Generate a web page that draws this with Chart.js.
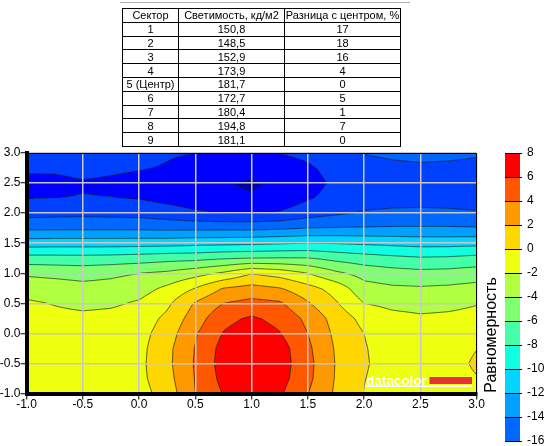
<!DOCTYPE html>
<html>
<head>
<meta charset="utf-8">
<script src="https://cdn.jsdelivr.net/npm/chart.js@4.4.0/dist/chart.umd.min.js"></script>
<style>
html, body { margin: 0; padding: 0; background: #fff; }
#wrap { position: relative; width: 544px; height: 446px; overflow: hidden; }
#chart { position: absolute; left: 0; top: 0; }
#topline { position: absolute; left: 120px; top: 2px; width: 290px; height: 1px; background: #b0b0b0; }
#tbl { position: absolute; left: 122px; top: 8px; border-collapse: collapse; table-layout: fixed;
       font: 11px "Liberation Sans", Arial, sans-serif; color: #000; }
#tbl td { border: 1px solid #000; padding: 0; height: 12.8px; line-height: 12px; text-align: center; white-space: nowrap; overflow: hidden; }
</style>
</head>
<body>
<div id="wrap">
  <canvas id="chart" width="544" height="446"></canvas>
  <div id="topline"></div>
  <table id="tbl"></table>
</div>
<script>
// table above the plot
var tableHeader = ['Сектор', 'Светимость, кд/м2', 'Разница с центром, %'];
var sectors = ['1', '2', '3', '4', '5 (Центр)', '6', '7', '8', '9'];
var luminance = [150.8, 148.5, 152.9, 173.9, 181.7, 172.7, 180.4, 194.8, 181.1];
var centerDiff = [17, 18, 16, 4, 0, 5, 1, 7, 0];
var colWidths = [56, 106, 116];

// uniformity field on a 0.25 grid
var xVals = [-1, -0.75, -0.5, -0.25, 0, 0.25, 0.5, 0.75, 1, 1.25, 1.5, 1.75, 2, 2.25, 2.5, 2.75, 3];
var yVals = [3, 2.75, 2.5, 2.25, 2, 1.75, 1.5, 1.25, 1, 0.75, 0.5, 0.25, 0, -0.25, -0.5, -0.75, -1];
var zRows = [
  [-17.2, -17.2, -17.0, -17.2, -17.5, -17.8, -17.98, -18.3, -18.4, -17.95, -17.5, -16.6, -15.95, -15.6, -15.4, -15.5, -15.75],
  [-17.6, -17.6, -17.3, -17.6, -17.85, -18.15, -18.7, -19.2, -19.4, -19.0, -18.3, -17.3, -16.7, -16.5, -16.35, -16.45, -16.6],
  [-18.7, -18.6, -18.2, -18.4, -18.7, -19.1, -19.5, -19.95, -20.15, -19.8, -18.8, -17.6, -17.2, -17.1, -17.1, -17.0, -16.9],
  [-18.05, -18.0, -17.9, -17.95, -18.1, -18.6, -19.0, -19.6, -19.9, -19.3, -18.2, -17.3, -16.9, -16.8, -16.8, -16.85, -16.9],
  [-16.7, -16.6, -16.5, -16.6, -16.7, -17.1, -17.7, -18.0, -18.05, -17.8, -16.9, -16.3, -15.8, -15.6, -15.5, -15.6, -15.8],
  [-14.4, -14.4, -14.4, -14.4, -14.4, -14.5, -14.5, -14.5, -14.5, -14.3, -14.0, -13.9, -13.85, -13.8, -13.8, -13.8, -13.85],
  [-11.0, -10.9, -10.9, -10.9, -10.85, -10.8, -10.6, -10.5, -10.4, -10.2, -10.0, -10.1, -10.3, -10.5, -10.7, -10.7, -10.6],
  [-7.2, -7.25, -7.3, -7.2, -7.0, -6.7, -6.6, -6.2, -6.0, -5.9, -5.9, -6.6, -7.1, -7.5, -7.8, -7.7, -7.35],
  [-4.3, -4.5, -4.7, -4.4, -4.0, -3.6, -2.75, -1.7, -0.1, -0.8, -2.0, -3.6, -4.7, -5.15, -5.4, -5.3, -5.0],
  [-2.87, -3.1, -3.4, -3.3, -2.85, -1.6, 0.05, 2.1, 2.65, 2.1, 0.7, -0.8, -3.3, -3.7, -3.8, -3.65, -3.35],
  [-1.7, -2.1, -2.5, -2.3, -1.75, -0.4, 2.2, 4.0, 4.65, 4.3, 2.2, 0.2, -2.0, -2.5, -2.7, -2.5, -2.1],
  [-1.5, -1.45, -1.5, -1.4, -1.1, 0.45, 3.0, 5.5, 6.25, 5.5, 3.5, 1.2, -0.6, -1.4, -1.7, -1.6, -1.4],
  [-1.2, -1.1, -1.0, -0.8, -0.75, 1.0, 3.8, 6.1, 6.9, 6.1, 4.0, 1.55, 0.0, -0.8, -1.1, -1.0, -0.5],
  [-1.0, -0.9, -0.75, -0.65, -0.6, 1.45, 4.1, 6.7, 7.5, 6.9, 4.4, 1.8, 0.1, -0.65, -0.9, -0.8, -0.05],
  [-0.9, -0.8, -0.7, -0.6, -0.5, 1.5, 4.2, 6.85, 7.6, 7.0, 4.6, 1.9, 0.15, -0.6, -0.85, -0.8, 0.3],
  [-0.9, -0.8, -0.65, -0.55, -0.55, 1.3, 4.1, 6.6, 7.4, 6.8, 4.5, 1.85, 0.05, -0.65, -0.85, -0.75, -0.1],
  [-0.9, -0.85, -0.7, -0.6, -0.8, 0.9, 4.0, 6.1, 7.0, 6.3, 4.05, 1.7, -0.05, -0.7, -0.9, -0.8, -0.3]
];

// contour levels and the colour of each band [levels[k], levels[k+1])
var levels = [-22, -20, -18, -16, -14, -12, -10, -8, -6, -4, -2, 0, 2, 4, 6, 8];
var bandColors = ['#0000a8', '#0000ff', '#0040ff', '#0068ff', '#00a0ff', '#00d4ff', '#10ffe0',
                  '#44ffa8', '#80ff70', '#b0ff40', '#eeff10', '#ffd700', '#ff9900', '#ff5800', '#ff0000'];
var barLevels = [8, 6, 4, 2, 0, -2, -4, -6, -8, -10, -12, -14, -16];
var barTitle = 'Равномерность';
var axisTicks = { min: -1, max: 3, step: 0.5 };

// build the table
(function () {
  var tbl = document.getElementById('tbl');
  var html = '<colgroup>';
  colWidths.forEach(function (w) { html += '<col style="width:' + w + 'px">'; });
  html += '</colgroup><tr>';
  tableHeader.forEach(function (h) { html += '<td>' + h + '</td>'; });
  html += '</tr>';
  for (var i = 0; i < sectors.length; i++) {
    html += '<tr><td>' + sectors[i] + '</td><td>' + luminance[i].toFixed(1).replace('.', ',') +
            '</td><td>' + centerDiff[i] + '</td></tr>';
  }
  tbl.innerHTML = html;
})();

function findCell(arr, v) {
  var asc = arr[arr.length - 1] > arr[0];
  for (var i = 0; i < arr.length - 1; i++) {
    var a = arr[i], b = arr[i + 1];
    if ((asc && v <= b) || (!asc && v >= b)) return [i, (v - a) / (b - a)];
  }
  return [arr.length - 2, 1];
}

function field(xv, yv) {
  var cx = findCell(xVals, xv), cy = findCell(yVals, yv);
  var i = cx[0], tx = Math.max(0, Math.min(1, cx[1]));
  var j = cy[0], ty = Math.max(0, Math.min(1, cy[1]));
  return (1 - tx) * (1 - ty) * zRows[j][i] + tx * (1 - ty) * zRows[j][i + 1] +
         (1 - tx) * ty * zRows[j + 1][i] + tx * ty * zRows[j + 1][i + 1];
}

function bandOf(z) {
  var k = Math.floor((z - levels[0]) / 2);
  return Math.max(0, Math.min(bandColors.length - 1, k));
}

function edgePoint(x1, y1, v1, x2, y2, v2, L) {
  var t = (L - v1) / (v2 - v1);
  return [x1 + (x2 - x1) * t, y1 + (y2 - y1) * t];
}

var contourPlugin = {
  id: 'contour',
  beforeDraw: function (chart) {
    var ctx = chart.ctx, a = chart.chartArea;
    var sx = chart.scales.x, sy = chart.scales.y;
    ctx.save();
    ctx.beginPath();
    ctx.rect(a.left, a.top, a.right - a.left, a.bottom - a.top);
    ctx.clip();

    // filled bands, one pixel row at a time
    var x0 = Math.floor(a.left), x1 = Math.ceil(a.right);
    var y0 = Math.floor(a.top), y1 = Math.ceil(a.bottom);
    var xv = [];
    for (var px = x0; px < x1; px++) xv.push(sx.getValueForPixel(px + 0.5));
    for (var py = y0; py < y1; py++) {
      var yv = sy.getValueForPixel(py + 0.5);
      var start = x0, cur = -1;
      for (var k = 0; k <= xv.length; k++) {
        var b = k < xv.length ? bandOf(field(xv[k], yv)) : -2;
        if (b !== cur) {
          if (cur >= 0) {
            ctx.fillStyle = bandColors[cur];
            ctx.fillRect(start, py, x0 + k - start, 1);
          }
          start = x0 + k;
          cur = b;
        }
      }
    }

    // contour lines, marching squares on a fine sample of the field
    var s = 2;
    var nx = Math.ceil((a.right - a.left) / s) + 1, ny = Math.ceil((a.bottom - a.top) / s) + 1;
    var gx = [], gy = [], g = [];
    for (var i = 0; i < nx; i++) gx.push(a.left + i * s);
    for (var j = 0; j < ny; j++) gy.push(a.top + j * s);
    for (j = 0; j < ny; j++) {
      var row = [], yy = sy.getValueForPixel(gy[j]);
      for (i = 0; i < nx; i++) row.push(field(sx.getValueForPixel(gx[i]), yy));
      g.push(row);
    }
    ctx.beginPath();
    for (j = 0; j < ny - 1; j++) {
      for (i = 0; i < nx - 1; i++) {
        var va = g[j][i], vb = g[j][i + 1], vc = g[j + 1][i + 1], vd = g[j + 1][i];
        var lo = Math.min(va, vb, vc, vd), hi = Math.max(va, vb, vc, vd);
        var X = gx[i], Y = gy[j], X2 = gx[i + 1], Y2 = gy[j + 1];
        for (var m = 0; m < levels.length; m++) {
          var L = levels[m];
          if (L <= lo || L > hi) continue;
          var pts = [];
          if ((va >= L) !== (vb >= L)) pts.push(edgePoint(X, Y, va, X2, Y, vb, L));
          if ((vb >= L) !== (vc >= L)) pts.push(edgePoint(X2, Y, vb, X2, Y2, vc, L));
          if ((vc >= L) !== (vd >= L)) pts.push(edgePoint(X2, Y2, vc, X, Y2, vd, L));
          if ((vd >= L) !== (va >= L)) pts.push(edgePoint(X, Y2, vd, X, Y, va, L));
          for (var p = 0; p + 1 < pts.length; p += 2) {
            ctx.moveTo(pts[p][0], pts[p][1]);
            ctx.lineTo(pts[p + 1][0], pts[p + 1][1]);
          }
        }
      }
    }
    ctx.strokeStyle = 'rgba(30,30,30,0.75)';
    ctx.lineWidth = 0.9;
    ctx.stroke();
    ctx.restore();
  },
  afterDraw: function (chart) {
    var ctx = chart.ctx, a = chart.chartArea;
    ctx.save();
    // thin frame on top and right
    ctx.strokeStyle = '#000';
    ctx.lineWidth = 1;
    ctx.beginPath();
    ctx.moveTo(a.left, a.top + 0.5);
    ctx.lineTo(a.right, a.top + 0.5);
    ctx.lineTo(a.right, a.bottom);
    ctx.stroke();

    // datacolor logo
    ctx.font = 'bold 13.5px "Liberation Sans", Arial, sans-serif';
    ctx.fillStyle = '#fff';
    ctx.textAlign = 'left';
    ctx.textBaseline = 'alphabetic';
    ctx.fillText('datacolor', a.right - 110.5, a.bottom - 9);
    ctx.fillStyle = '#e8303a';
    ctx.fillRect(a.right - 47, a.bottom - 16.5, 42.5, 7);
    ctx.fillStyle = '#fff';
    ctx.fillRect(a.right - 110.5, a.bottom - 8, 106, 1.5);

    // colour bar
    var barX = 505, barW = 15, barTop = 153, barBottom = 441;
    var vMax = barLevels[0], vMin = barLevels[barLevels.length - 1];
    function barY(v) { return barTop + (vMax - v) / (vMax - vMin) * (barBottom - barTop); }
    for (var k = 0; k < barLevels.length - 1; k++) {
      var hiV = barLevels[k], loV = barLevels[k + 1];
      ctx.fillStyle = bandColors[bandOf((hiV + loV) / 2)];
      ctx.fillRect(barX, barY(hiV), barW, barY(loV) - barY(hiV));
    }
    ctx.strokeStyle = '#000';
    ctx.lineWidth = 1;
    ctx.fillStyle = '#000';
    ctx.font = '12px "Liberation Sans", Arial, sans-serif';
    ctx.textBaseline = 'middle';
    barLevels.forEach(function (v) {
      var y = Math.round(barY(v)) + 0.5;
      ctx.beginPath();
      ctx.moveTo(barX, y);
      ctx.lineTo(barX + barW + 2, y);
      ctx.stroke();
      ctx.fillText(String(v), 527, barY(v));
    });
    ctx.translate(492, 335);
    ctx.rotate(-Math.PI / 2);
    ctx.font = '16px "Liberation Sans", Arial, sans-serif';
    ctx.textAlign = 'center';
    ctx.fillText(barTitle, 0, 0);
    ctx.restore();
  }
};

var gridPoints = [];
yVals.forEach(function (yv, j) {
  xVals.forEach(function (xv, i) { gridPoints.push({ x: xv, y: yv, v: zRows[j][i] }); });
});

var tickFont = { family: '"Liberation Sans", Arial, sans-serif', size: 12 };
function axis(extra, pad) {
  var o = {
    type: 'linear',
    min: axisTicks.min,
    max: axisTicks.max,
    ticks: { stepSize: axisTicks.step, color: '#000', font: tickFont, padding: pad, autoSkip: false, maxRotation: 0,
             callback: function (v) { return Number(v).toFixed(1); } },
    grid: { color: '#c8c8c8', lineWidth: 1.5, tickColor: '#000', tickWidth: 1, tickLength: 6 },
    border: { display: true, color: '#000', width: 4 }
  };
  for (var k in extra) o[k] = extra[k];
  return o;
}

new Chart(document.getElementById('chart'), {
  type: 'scatter',
  data: { datasets: [{ data: gridPoints, pointRadius: 0, pointHoverRadius: 0 }] },
  options: {
    responsive: false,
    animation: false,
    events: [],
    layout: { padding: { left: 0, top: 153, right: 67.5, bottom: 20 } },
    plugins: { legend: { display: false }, tooltip: { enabled: false } },
    scales: {
      x: axis({ afterFit: function (s) { s.height = 32.5; } }, -2),
      y: axis({ afterFit: function (s) { s.width = 26.5; } }, 0)
    }
  },
  plugins: [contourPlugin]
});
</script>
</body>
</html>
